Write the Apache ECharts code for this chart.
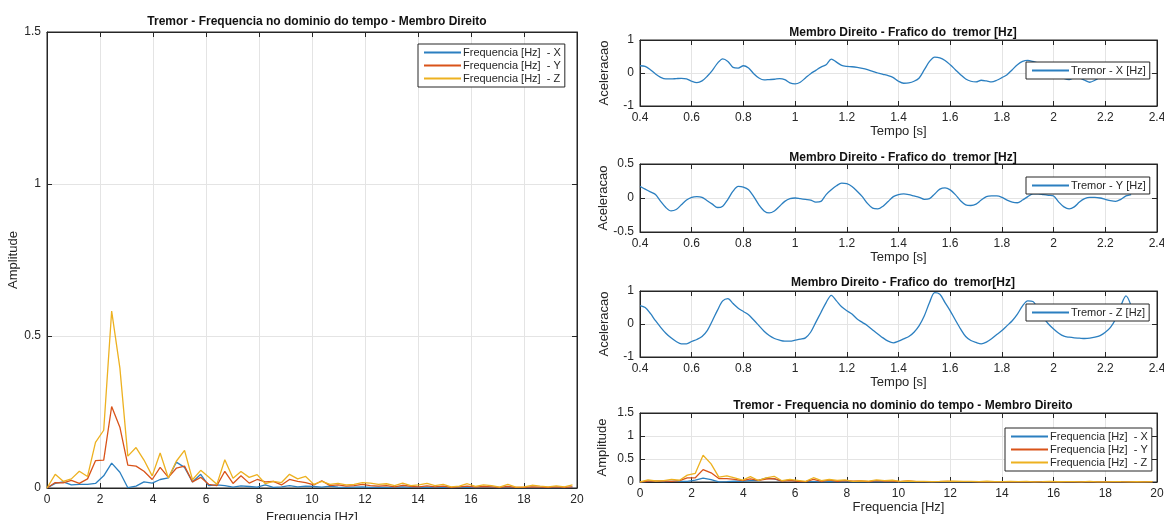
<!DOCTYPE html>
<html>
	<head>
		<meta charset="utf-8">
		<title>Tremor - Membro Direito</title>
		<script src="https://cdn.jsdelivr.net/npm/echarts/dist/echarts.min.js"></script>
		<style>
			html, body { margin: 0; padding: 0; background: #fff; }
		</style>
	</head>
	<body>
		<div id="main" style="width: 1164px;height: 520px;"></div>
		<script type="text/javascript">
			// frequencias do espectro (Hz)
			var freq = [0, 0.31, 0.61, 0.92, 1.22, 1.53, 1.83, 2.14, 2.44, 2.75, 3.05, 3.36, 3.66, 3.97, 4.27, 4.58,
				4.88, 5.19, 5.49, 5.80, 6.10, 6.41, 6.71, 7.02, 7.32, 7.63, 7.93, 8.24, 8.54, 8.85, 9.15, 9.46,
				9.76, 10.07, 10.37, 10.68, 10.98, 11.29, 11.59, 11.90, 12.20, 12.51, 12.81, 13.12, 13.42, 13.73,
				14.03, 14.34, 14.64, 14.95, 15.25, 15.56, 15.86, 16.17, 16.47, 16.78, 17.08, 17.39, 17.69, 18.00,
				18.30, 18.61, 18.91, 19.22, 19.52, 19.83];

			var ampX = [0.000, 0.015, 0.020, 0.010, 0.012, 0.012, 0.015, 0.040, 0.082, 0.052, 0.001, 0.006, 0.020, 0.016,
				0.028, 0.033, 0.085, 0.068, 0.020, 0.045, 0.008, 0.010, 0.008, 0.003, 0.007, 0.005, 0.003, 0.010, 0.002,
				0.004, 0.008, 0.004, 0.006, 0.005, 0.003, 0.006, 0.003, 0.002, 0.003, 0.004, 0.002, 0.003, 0.002, 0.003,
				0.004, 0.002, 0.002, 0.003, 0.002, 0.003, 0.001, 0.002, 0.003, 0.001, 0.002, 0.002, 0.001, 0.002, 0.001,
				0.001, 0.002, 0.001, 0.001, 0.002, 0.001, 0.002];
			var ampY = [0.000, 0.018, 0.017, 0.025, 0.015, 0.030, 0.090, 0.092, 0.268, 0.200, 0.075, 0.072, 0.055, 0.028,
				0.068, 0.035, 0.065, 0.072, 0.020, 0.035, 0.012, 0.008, 0.055, 0.015, 0.040, 0.016, 0.028, 0.020, 0.022,
				0.010, 0.028, 0.022, 0.018, 0.010, 0.024, 0.008, 0.010, 0.006, 0.008, 0.012, 0.008, 0.006, 0.008, 0.004,
				0.009, 0.005, 0.004, 0.007, 0.004, 0.006, 0.002, 0.004, 0.006, 0.003, 0.005, 0.004, 0.002, 0.005, 0.002,
				0.002, 0.004, 0.003, 0.002, 0.004, 0.002, 0.004];
			var ampZ = [0.000, 0.045, 0.022, 0.030, 0.055, 0.038, 0.150, 0.190, 0.582, 0.395, 0.105, 0.133, 0.092, 0.040,
				0.115, 0.033, 0.088, 0.124, 0.027, 0.058, 0.036, 0.012, 0.093, 0.032, 0.054, 0.035, 0.044, 0.014, 0.022,
				0.018, 0.045, 0.030, 0.038, 0.012, 0.022, 0.012, 0.015, 0.010, 0.012, 0.018, 0.016, 0.012, 0.014, 0.008,
				0.016, 0.008, 0.010, 0.015, 0.008, 0.012, 0.004, 0.006, 0.014, 0.005, 0.010, 0.008, 0.003, 0.012, 0.003,
				0.004, 0.009, 0.006, 0.004, 0.007, 0.004, 0.010];

			// tempo (s) e aceleracao
			var tempo = [0.40, 0.42, 0.44, 0.46, 0.48, 0.50, 0.52, 0.54, 0.56, 0.58, 0.60, 0.62, 0.64, 0.66, 0.68, 0.70,
				0.72, 0.74, 0.76, 0.78, 0.80, 0.82, 0.84, 0.86, 0.88, 0.90, 0.92, 0.94, 0.96, 0.98, 1.00, 1.02,
				1.04, 1.06, 1.08, 1.10, 1.12, 1.14, 1.16, 1.18, 1.20, 1.22, 1.24, 1.26, 1.28, 1.30, 1.32, 1.34,
				1.36, 1.38, 1.40, 1.42, 1.44, 1.46, 1.48, 1.50, 1.52, 1.54, 1.56, 1.58, 1.60, 1.62, 1.64, 1.66,
				1.68, 1.70, 1.72, 1.74, 1.76, 1.78, 1.80, 1.82, 1.84, 1.86, 1.88, 1.90, 1.92, 1.94, 1.96, 1.98,
				2.00, 2.02, 2.04, 2.06, 2.08, 2.10, 2.12, 2.14, 2.16, 2.18, 2.20, 2.22, 2.24, 2.26, 2.28, 2.30];

			var tremorX = [0.22, 0.20, 0.10, -0.03, -0.13, -0.18, -0.18, -0.17, -0.16, -0.18, -0.25, -0.29, -0.24, -0.10,
				0.08, 0.30, 0.43, 0.35, 0.17, 0.15, 0.22, 0.15, -0.02, -0.15, -0.21, -0.20, -0.19, -0.17, -0.20, -0.30,
				-0.33, -0.28, -0.15, -0.02, 0.08, 0.18, 0.25, 0.42, 0.33, 0.23, 0.20, 0.19, 0.17, 0.14, 0.10, 0.05,
				0.00, -0.04, -0.08, -0.14, -0.25, -0.31, -0.30, -0.25, -0.15, 0.10, 0.35, 0.48, 0.46, 0.38, 0.25, 0.10,
				-0.05, -0.18, -0.25, -0.27, -0.22, -0.24, -0.27, -0.22, -0.14, -0.05, 0.10, 0.25, 0.35, 0.38, 0.35, 0.30,
				0.20, 0.10, 0.02, -0.08, -0.16, -0.20, -0.14, -0.15, -0.22, -0.28, -0.22, -0.12, -0.06, -0.03, 0.05, 0.10,
				0.15, 0.18];
			var tremorY = [0.17, 0.13, 0.09, 0.05, -0.05, -0.14, -0.19, -0.17, -0.10, -0.03, 0.01, 0.02, 0.01, -0.04,
				-0.09, -0.14, -0.12, -0.02, 0.10, 0.17, 0.16, 0.12, 0.02, -0.10, -0.19, -0.22, -0.19, -0.12, -0.05, -0.01,
				0.00, -0.01, -0.02, -0.03, -0.06, -0.05, 0.05, 0.12, 0.18, 0.22, 0.21, 0.17, 0.10, 0.02, -0.08, -0.15,
				-0.16, -0.12, -0.05, 0.02, 0.05, 0.06, 0.05, 0.03, 0.01, -0.02, -0.01, 0.06, 0.13, 0.15, 0.12, 0.05,
				-0.04, -0.10, -0.11, -0.09, -0.03, 0.02, 0.03, 0.03, 0.01, -0.03, -0.06, -0.07, -0.03, 0.02, 0.06, 0.06,
				0.05, 0.04, 0.03, -0.06, -0.13, -0.16, -0.13, -0.06, -0.01, 0.01, 0.01, 0.00, -0.02, -0.04, -0.05, -0.02,
				0.03, 0.05];
			var tremorZ = [0.56, 0.50, 0.32, 0.10, -0.10, -0.28, -0.42, -0.53, -0.60, -0.60, -0.53, -0.47, -0.38, -0.20,
				0.10, 0.42, 0.70, 0.77, 0.62, 0.48, 0.38, 0.28, 0.12, -0.05, -0.22, -0.35, -0.44, -0.49, -0.52, -0.52,
				-0.49, -0.46, -0.42, -0.25, 0.05, 0.35, 0.65, 0.87, 0.70, 0.52, 0.40, 0.30, 0.15, 0.05, -0.05, -0.18,
				-0.30, -0.42, -0.52, -0.57, -0.52, -0.45, -0.38, -0.25, -0.05, 0.25, 0.65, 0.95, 0.90, 0.65, 0.40, 0.12,
				-0.15, -0.38, -0.50, -0.56, -0.60, -0.55, -0.45, -0.32, -0.20, -0.05, 0.10, 0.30, 0.55, 0.70, 0.68, 0.45,
				0.20, 0.00, -0.15, -0.28, -0.37, -0.40, -0.42, -0.43, -0.44, -0.43, -0.40, -0.35, -0.25, -0.10, 0.15, 0.55,
				0.85, 0.55];

			var nomesFreq = ['Frequencia [Hz]  - X', 'Frequencia [Hz]  - Y', 'Frequencia [Hz]  - Z'];
			var cores = ['#2b7fc0', '#d95319', '#edb120'];
			var fonte = '"Liberation Sans", Arial, Helvetica, sans-serif';
			var preto = '#262626';

			function pares(xs, ys) {
				return xs.map(function (x, i) { return [x, ys[i]]; });
			}

			function eixosX(g, min, max, step, nome, gap) {
				var base = {
					gridIndex: g, type: 'value', min: min, max: max, interval: step,
					axisLine: { onZero: false, lineStyle: { color: preto } },
					axisTick: { inside: true, length: 5, lineStyle: { color: preto } },
					splitLine: { show: true, lineStyle: { color: '#e4e4e4' } }
				};
				var baixo = Object.assign({}, base, {
					position: 'bottom',
					name: nome, nameLocation: 'middle', nameGap: gap,
					nameTextStyle: { color: preto, fontSize: 13, fontFamily: fonte },
					axisLabel: { color: preto, fontSize: 12, fontFamily: fonte, margin: 6 }
				});
				var cima = Object.assign({}, base, {
					position: 'top', axisLabel: { show: false }, splitLine: { show: false }
				});
				return [baixo, cima];
			}

			function eixosY(g, min, max, step, nome, gap) {
				var base = {
					gridIndex: g, type: 'value', min: min, max: max, interval: step,
					axisLine: { show: true, onZero: false, lineStyle: { color: preto } },
					axisTick: { show: true, inside: true, length: 5, lineStyle: { color: preto } },
					splitLine: { show: true, lineStyle: { color: '#e4e4e4' } }
				};
				var esq = Object.assign({}, base, {
					position: 'left',
					name: nome, nameLocation: 'middle', nameGap: gap,
					nameTextStyle: { color: preto, fontSize: 13, fontFamily: fonte },
					axisLabel: { color: preto, fontSize: 12, fontFamily: fonte, margin: 6 }
				});
				var dir = Object.assign({}, base, {
					position: 'right', axisLabel: { show: false }, splitLine: { show: false }
				});
				return [esq, dir];
			}

			function titulo(texto, x, y) {
				return {
					text: texto, left: x, top: y, textAlign: 'center',
					textStyle: { color: '#111', fontSize: 12, fontWeight: 'bold', fontFamily: fonte }
				};
			}

			function legenda(nomes, x, y) {
				return {
					data: nomes, left: x, top: y, orient: 'vertical',
					icon: 'rect', itemWidth: 37, itemHeight: 2, itemGap: 2,
					padding: [3, 4, 3, 6],
					backgroundColor: '#fff', borderColor: preto, borderWidth: 1, borderRadius: 0,
					selectedMode: false,
					textStyle: { color: preto, fontSize: 11, fontFamily: fonte, padding: [0, 0, 0, -3] }
				};
			}

			var grids = [
				{ left: 47, width: 530, top: 32, height: 456 },
				{ left: 640, width: 517, top: 40, height: 66 },
				{ left: 640, width: 517, top: 164, height: 68 },
				{ left: 640, width: 517, top: 291, height: 66 },
				{ left: 640, width: 517, top: 413, height: 69 }
			];
			grids.forEach(function (g) {
				g.show = true; g.borderColor = preto; g.borderWidth = 1; g.backgroundColor = '#fff';
				g.containLabel = false; g.outerBoundsMode = 'none';
			});

			var xAxes = [].concat(
				eixosX(0, 0, 20, 2, 'Frequencia [Hz]', 20),
				eixosX(1, 0.4, 2.4, 0.2, 'Tempo [s]', 18),
				eixosX(2, 0.4, 2.4, 0.2, 'Tempo [s]', 18),
				eixosX(3, 0.4, 2.4, 0.2, 'Tempo [s]', 18),
				eixosX(4, 0, 20, 2, 'Frequencia [Hz]', 18)
			);
			var yAxes = [].concat(
				eixosY(0, 0, 1.5, 0.5, 'Amplitude', 24),
				eixosY(1, -1, 1, 1, 'Aceleracao', 29),
				eixosY(2, -0.5, 0.5, 0.5, 'Aceleracao', 29),
				eixosY(3, -1, 1, 1, 'Aceleracao', 29),
				eixosY(4, 0, 1.5, 0.5, 'Amplitude', 31)
			);

			function linha(nome, dados, eixo, cor) {
				return {
					name: nome, type: 'line', data: dados,
					xAxisIndex: eixo * 2, yAxisIndex: eixo * 2,
					showSymbol: false, symbol: 'none', animation: false,
					lineStyle: { color: cor, width: 1.3 }, itemStyle: { color: cor }
				};
			}

			var series = [
				linha(nomesFreq[0], pares(freq, ampX), 0, cores[0]),
				linha(nomesFreq[1], pares(freq, ampY), 0, cores[1]),
				linha(nomesFreq[2], pares(freq, ampZ), 0, cores[2]),
				Object.assign(linha('Tremor - X [Hz]', pares(tempo, tremorX), 1, cores[0]), { smooth: 0.3 }),
				Object.assign(linha('Tremor - Y [Hz]', pares(tempo, tremorY), 2, cores[0]), { smooth: 0.3 }),
				Object.assign(linha('Tremor - Z [Hz]', pares(tempo, tremorZ), 3, cores[0]), { smooth: 0.3 }),
				linha(nomesFreq[0], pares(freq, ampX), 4, cores[0]),
				linha(nomesFreq[1], pares(freq, ampY), 4, cores[1]),
				linha(nomesFreq[2], pares(freq, ampZ), 4, cores[2])
			];

			var myChart = echarts.init(document.getElementById('main'));
			var option = {
				animation: false,
				backgroundColor: '#fff',
				title: [
					titulo('Tremor - Frequencia no dominio do tempo - Membro Direito', 312, 11),
					titulo('Membro Direito - Frafico do  tremor [Hz]', 898, 22),
					titulo('Membro Direito - Frafico do  tremor [Hz]', 898, 147),
					titulo('Membro Direito - Frafico do  tremor[Hz]', 898, 272),
					titulo('Tremor - Frequencia no dominio do tempo - Membro Direito', 898, 395)
				],
				legend: [
					legenda(nomesFreq, 418, 44),
					legenda(['Tremor - X [Hz]'], 1026, 62),
					legenda(['Tremor - Y [Hz]'], 1026, 177),
					legenda(['Tremor - Z [Hz]'], 1026, 304),
					legenda(nomesFreq, 1005, 428)
				],
				grid: grids,
				xAxis: xAxes,
				yAxis: yAxes,
				series: series
			};
			myChart.setOption(option);
		</script>
	</body>
</html>
